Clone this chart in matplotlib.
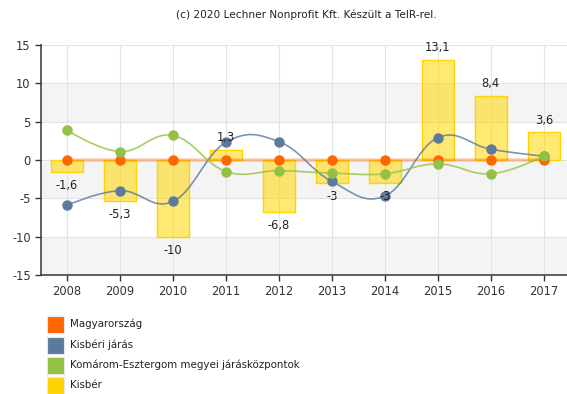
import numpy as np
import matplotlib
matplotlib.use("Agg")
import matplotlib.pyplot as plt
from matplotlib.path import Path
from matplotlib.patches import PathPatch, Rectangle

plt.rcParams['font.family'] = ['DejaVu Sans']
plt.rcParams['axes.unicode_minus'] = False

years = ["2008", "2009", "2010", "2011", "2012", "2013", "2014", "2015", "2016", "2017"]
magyarorszag = [0, 0, 0, 0, 0, 0, 0, 0, 0, 0]
kisberi_jaras = [-5.9, -4.0, -5.4, 2.3, 2.4, -2.8, -4.7, 2.9, 1.4, 0.5]
komarom = [3.9, 1.1, 3.2, -1.5, -1.4, -1.7, -1.8, -0.5, -1.8, 0.5]
kisber = [-1.6, -5.3, -10, 1.3, -6.8, -3, -3, 13.1, 8.4, 3.6]

series_names = ["Magyarország", "Kisbéri járás",
                "Komárom-Esztergom megyei járásközpontok", "Kisbér"]
colors = ["#FF6600", "#5C7A9C", "#94C043", "#FFD200"]


def spline_path(xs, ys, smoothing=1.5):
    """Cubic Bezier path through the points, with smoothed control points."""
    n = len(xs)
    denom = smoothing + 1
    left = [None] * n
    right = [None] * n
    for i in range(n):
        x, y = xs[i], ys[i]
        if i == 0 or i == n - 1:
            left[i] = (x, y)
            right[i] = (x, y)
            continue
        lx, ly = xs[i - 1], ys[i - 1]
        nx, ny = xs[i + 1], ys[i + 1]
        lcx = (smoothing * x + lx) / denom
        lcy = (smoothing * y + ly) / denom
        rcx = (smoothing * x + nx) / denom
        rcy = (smoothing * y + ny) / denom
        corr = ((rcy - lcy) * (rcx - x)) / (rcx - lcx) + y - rcy
        left[i] = (lcx, lcy + corr)
        right[i] = (rcx, rcy + corr)
    verts = [(xs[0], ys[0])]
    codes = [Path.MOVETO]
    for i in range(1, n):
        verts += [right[i - 1], left[i], (xs[i], ys[i])]
        codes += [Path.CURVE4] * 3
    return Path(verts, codes)


fig = plt.figure(figsize=(5.67, 3.94), dpi=100)
ax = fig.add_axes([40.5 / 567, 119 / 394, 529.7 / 567, 230 / 394])

x = np.arange(len(years))
ax.set_xlim(-0.5, len(years) - 0.5)
ax.set_ylim(-15, 15)

# alternating horizontal bands
for lo in (-15, -5, 5):
    ax.axhspan(lo, lo + 5, color="#F4F4F4", zorder=0, lw=0)
for yv in range(-15, 16, 5):
    ax.axhline(yv, color="#E3E3E3", lw=0.8, zorder=0.5)
for xv in x:
    ax.axvline(xv, color="#E3E3E3", lw=0.8, zorder=0.5)

# bars
ax.bar(x, kisber, width=0.6, facecolor="#FFD700", alpha=0.55, edgecolor="none", zorder=1)
ax.bar(x, kisber, width=0.6, facecolor="none", edgecolor="#FFD200", lw=1.0, zorder=1.1)

# spline series
for vals, col, z in ((magyarorszag, colors[0], 2), (kisberi_jaras, colors[1], 3), (komarom, colors[2], 4)):
    lw = 2.2 if col == colors[0] else 1.2
    alpha = 0.4 if col == colors[0] else 0.8
    p = spline_path(list(x.astype(float)), list(vals))
    ax.add_patch(PathPatch(p, facecolor="none", edgecolor=col, lw=lw, alpha=alpha, zorder=z))
    ax.plot(x, vals, ls="none", marker="o", ms=6.5, color=col, mec=col, zorder=z + 0.5)

# bar value labels
for xi, v in zip(x, kisber):
    lab = f"{v:g}".replace(".", ",")
    if v >= 0:
        ax.annotate(lab, (xi, v), xytext=(0, 4), textcoords="offset points",
                    ha="center", va="bottom", fontsize=8.3, color="#222222", zorder=10)
    else:
        ax.annotate(lab, (xi, v), xytext=(0, -5), textcoords="offset points",
                    ha="center", va="top", fontsize=8.3, color="#222222", zorder=10)

ax.set_xticks(x)
ax.set_xticklabels(years)
ax.set_yticks(range(-15, 16, 5))
ax.tick_params(axis="both", labelsize=8.3, colors="#333333", length=4, width=1)
ax.tick_params(axis="y", pad=3)
for s in ("top", "right"):
    ax.spines[s].set_visible(False)
for s in ("left", "bottom"):
    ax.spines[s].set_color("#444444")
    ax.spines[s].set_linewidth(1.2)
ax.set_axisbelow(False)

fig.text(306 / 567, 1 - 15 / 394, "(c) 2020 Lechner Nonprofit Kft. Készült a TeIR-rel.",
         ha="center", va="center", fontsize=7.6, color="#222222")

# legend
rows_y = [324, 345, 365, 385]
for name, col, yy in zip(series_names, colors, rows_y):
    fig.patches.append(Rectangle((47 / 567, 1 - (yy + 8.5) / 394), 17 / 567, 17 / 394,
                                 transform=fig.transFigure, facecolor=col,
                                 edgecolor="#E8E8E8", lw=0.8))
    fig.text(70 / 567, 1 - yy / 394, name, ha="left", va="center",
             fontsize=7.4, color="#222222")

fig.savefig("out.png", dpi=100)
